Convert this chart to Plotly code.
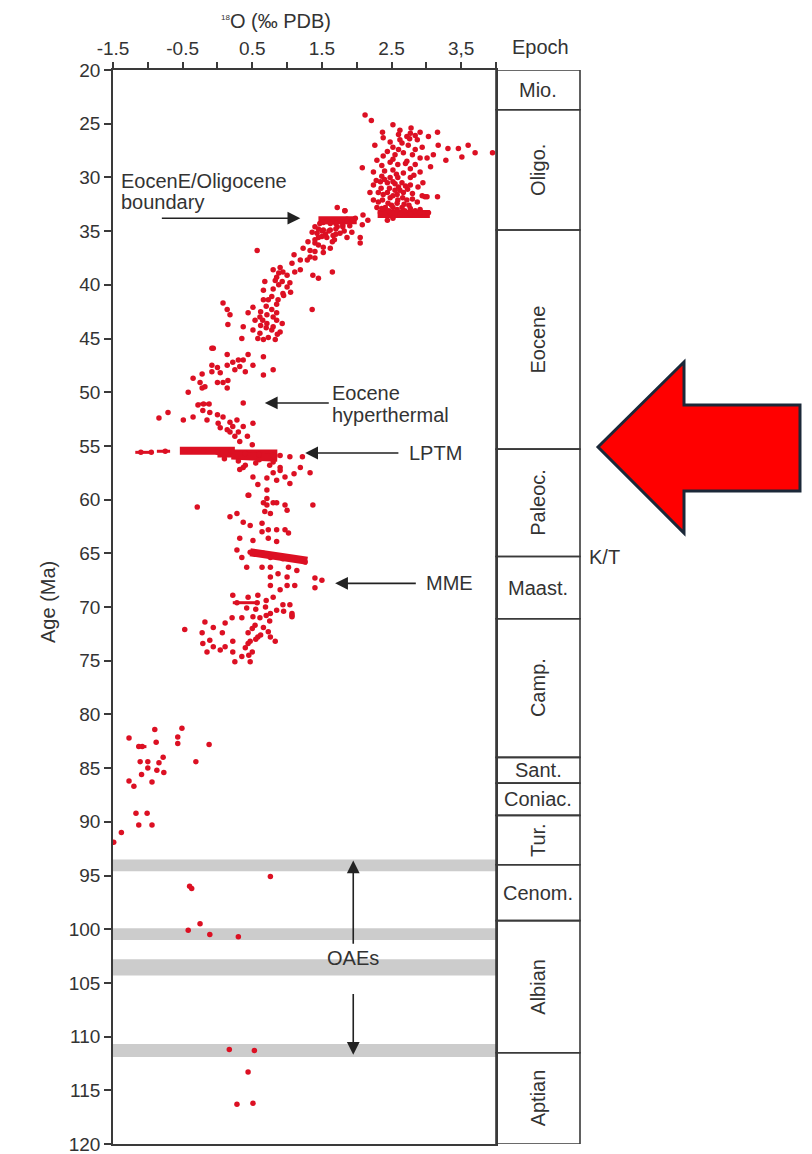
import plotly.graph_objects as go

# ---------------- data ----------------
# delta 18O (per mil PDB) vs age (Ma), grouped by interval
oligo_age = [24.2, 24.7, 25.1, 25.8, 25.6, 26.2, 26.1, 25.8, 26.5, 26.2, 25.8, 27.0, 27.0, 26.3, 26.7, 27.2,
             26.8, 27.0, 27.2, 27.3, 27.3, 27.0, 27.7, 28.1, 27.7, 28.4, 27.6, 27.9, 27.7, 27.9, 28.2, 28.2,
             27.9, 28.4, 28.6, 28.8, 28.7, 28.8, 29.5, 29.0, 29.1, 29.5, 29.3, 29.6, 30.0, 30.0, 30.0, 30.7,
             30.4, 30.5, 30.4, 30.5, 30.7, 30.9, 31.4, 31.4, 31.4, 31.2, 31.4, 31.5, 31.7, 31.8, 32.1, 32.1,
             31.9, 32.1, 32.1, 32.3, 32.8, 32.8, 32.8, 32.8, 32.9, 33.0, 33.3, 33.3, 33.4, 33.4, 33.3, 33.3,
             34.0, 33.8, 33.1, 31.8, 31.8, 33.5, 33.8, 33.9, 34.0, 30.2, 30.9, 31.0, 31.6, 32.4, 32.5, 31.1,
             29.8, 28.5, 29.2, 26.0, 25.4,
             30.3, 30.6, 30.8, 31.0, 31.2, 31.6, 31.7, 31.9, 32.0, 32.3, 32.4, 32.6, 32.6, 32.9, 33.1, 33.0,
             33.1, 33.1, 29.9, 29.7, 29.4, 28.9, 28.3, 28.0, 27.4, 27.4, 26.5, 26.4, 25.9, 30.5]
oligo_d18o = [2.12, 2.21, 2.52, 2.37, 2.62, 2.72, 2.84, 2.91, 2.87, 3.03, 3.16, 3.17, 2.26, 2.38, 2.48, 2.52,
              2.65, 2.74, 2.94, 3.31, 3.46, 3.60, 3.70, 3.51, 3.95, 3.28, 2.44, 2.55, 2.67, 2.80, 2.91, 3.01,
              3.10, 2.29, 2.48, 2.59, 2.70, 2.84, 2.91, 3.06, 2.08, 2.24, 2.52, 2.67, 2.48, 2.59, 2.77, 2.24,
              2.34, 2.44, 2.52, 2.65, 2.77, 2.88, 2.19, 2.31, 2.44, 2.55, 2.67, 2.80, 2.94, 3.01, 2.24, 2.37,
              2.48, 2.59, 2.72, 2.87, 2.29, 2.41, 2.52, 2.65, 2.77, 2.91, 2.34, 2.48, 2.62, 2.77, 2.91, 3.03,
              2.44, 2.52, 1.83, 2.98, 3.16, 2.09, 1.98, 1.86, 2.16, 2.40, 2.60, 2.35, 2.58, 2.45, 2.68, 2.73,
              2.82, 2.72, 2.77, 2.60, 2.78,
              2.28, 2.55, 2.70, 2.47, 2.62, 2.38, 2.52, 2.66, 2.80, 2.31, 2.58, 2.50, 2.75, 2.36, 2.46, 2.58,
              2.69, 2.84, 2.36, 2.57, 2.40, 2.36, 2.52, 2.38, 2.60, 2.84, 2.62, 2.76, 2.77, 2.95]

late_eocene_age = [34.6, 34.3, 34.1, 34.1, 34.1, 34.1, 34.0, 34.9, 34.9, 34.6, 34.6, 35.4, 35.2, 35.6, 35.6,
                   35.1, 35.6, 34.4, 36.1, 32.8, 33.1, 35.1, 35.2, 36.6, 36.8, 36.1, 35.6, 36.0, 36.5, 36.0,
                   36.9, 37.0, 36.8, 37.7, 37.4, 37.7, 38.0, 38.8, 38.6, 39.1, 39.4, 38.8, 38.8, 35.0, 34.8, 35.3,
                   34.3, 34.4, 34.5, 34.8, 35.0, 35.0, 35.3, 35.5, 35.8, 35.8, 34.2, 34.3]
late_eocene_d18o = [1.40, 1.47, 1.57, 1.66, 1.76, 1.86, 1.95, 1.52, 1.62, 1.72, 1.80, 1.66, 1.76, 1.57, 1.86,
                    1.93, 2.05, 2.08, 2.05, 1.72, 1.83, 1.36, 1.43, 1.23, 1.33, 1.40, 1.45, 1.30, 1.52, 1.65,
                    1.40, 1.52, 0.57, 1.19, 1.33, 1.29, 1.07, 1.11, 1.19, 1.37, 1.45, 1.65, 0.94, 1.50, 1.70, 1.55,
                    1.62, 1.80, 1.90, 1.45, 1.60, 1.82, 1.70, 1.50, 1.40, 1.68, 1.52, 1.70]

mid_eocene_age = [38.6, 38.4, 39.6, 39.7, 39.3, 39.7, 40.5, 41.1, 41.4, 41.4, 40.8, 40.2, 39.8, 42.3, 42.6,
                  43.0, 42.8, 43.6, 43.9, 43.6, 44.4, 44.9, 45.1, 44.5, 44.2, 42.3, 41.7, 42.3, 42.8, 43.7,
                  45.0, 45.9, 43.9, 42.6, 42.1, 43.3, 43.0, 41.4, 45.0, 45.1, 44.0, 43.3,
                  38.9, 39.1, 40.0, 40.4, 40.7, 41.0, 41.8, 42.0, 42.5, 43.3, 43.8, 44.2, 44.6, 37.2, 37.5,
                  36.3, 36.6]
mid_eocene_d18o = [0.80, 0.90, 0.83, 0.93, 0.85, 0.68, 0.66, 0.78, 0.73, 0.87, 0.94, 1.00, 1.04, 0.78, 0.85,
                   0.80, 0.71, 0.71, 0.80, 0.93, 0.90, 0.73, 0.83, 0.61, 0.51, 1.36, 0.08, 0.14, 0.18, 0.15,
                   0.35, -0.06, 0.37, 0.44, 0.51, 0.54, 0.61, 0.66, 0.58, 0.66, 0.70, 0.85,
                   0.88, 1.00, 0.88, 0.80, 1.05, 0.95, 0.85, 0.70, 0.62, 0.65, 0.62, 0.78, 0.86, 1.10, 1.40,
                   1.45, 1.62]

early_eocene_age = [50.0, 48.7, 49.1, 48.3, 49.5, 49.6, 45.9, 47.5, 48.1, 47.7, 48.2, 49.1, 49.1, 48.9, 49.6,
                    46.5, 47.5, 47.2, 47.9, 47.6, 47.0, 47.0, 48.1, 46.5, 47.5, 46.7, 48.4, 47.9,
                    52.4, 51.9, 52.6, 51.2, 51.7, 51.9, 52.1, 52.3, 52.3, 52.6, 52.9, 52.8, 52.6, 53.2,
                    53.2, 52.9, 53.5, 53.3, 54.1, 54.1, 54.6, 54.9, 51.0, 53.7, 53.7, 51.1, 51.1]
early_eocene_d18o = [-0.42, -0.35, -0.25, -0.22, -0.18, -0.22, -0.08, -0.08, -0.08, 0.00, 0.04, 0.00, 0.08,
                     0.15, 0.14, 0.14, 0.14, 0.22, 0.25, 0.32, 0.30, 0.37, 0.40, 0.44, 0.51, 0.66, 0.66, 0.80,
                     -0.84, -0.71, -0.49, -0.28, -0.21, -0.11, 0.00, 0.08, -0.35, -0.15, 0.01, 0.18, 0.28,
                     0.22, 0.37, 0.51, 0.14, 0.04, 0.25, 0.43, 0.32, 0.50, 0.37, 0.18, 0.30, -0.20, -0.12]

paleo_age = [56.0, 56.0, 57.0, 57.5, 57.0, 57.5, 57.9, 58.5, 58.0, 58.6, 57.9, 57.0, 57.2, 59.1, 59.6, 60.5,
             60.7, 60.3, 60.3, 60.5, 59.6, 59.9, 60.5, 60.3, 61.1, 61.3, 61.0, 61.6, 61.3, 62.1, 62.4, 62.2,
             63.0, 62.8, 62.8, 62.8, 63.1, 63.6, 63.9, 63.6, 63.8, 64.7, 65.4, 64.9, 65.0, 65.4, 65.5, 65.6,
             65.8, 56.4, 56.6, 56.8, 56.2, 55.9, 55.5, 55.5, 55.6, 55.5, 55.7, 55.8, 55.9, 55.6, 55.6, 55.5,
             56.3, 56.5, 56.8, 57.3, 57.6, 58.2]
paleo_d18o = [1.04, 1.22, 1.19, 1.33, 0.90, 0.80, 0.97, 1.04, 0.71, 0.58, 0.51, 0.37, 0.32, 0.71, 0.44, 1.37,
              -0.29, 0.66, 0.80, 0.97, 0.45, 0.71, 0.71, 0.85, 0.68, 0.76, 1.00, 0.18, 0.28, 0.37, 0.47, 0.64,
              0.64, 0.73, 0.85, 0.97, 1.02, 0.73, 0.85, 0.32, 0.51, 0.28, 0.35, 0.47, 0.66, 0.76, 0.94, 1.14,
              1.26, 0.30, 0.55, 0.75, 0.10, 0.90, -0.40, -0.20, 0.00, 0.20, 0.40, 0.60, 0.80, -1.10, -0.95, -0.75,
              0.60, 0.80, 0.40, 0.90, 1.10, 0.85]

maast_age = [66.3, 66.3, 66.3, 66.3, 66.6, 67.2, 66.9, 67.2, 68.0, 68.0, 68.0, 68.4, 69.1, 67.3, 67.5, 68.2,
             68.9, 69.1, 68.9, 69.6, 70.1, 69.6, 70.0, 70.3, 69.8, 69.8, 70.6, 71.0, 71.0, 70.9, 71.0, 70.6,
             71.7, 71.9, 72.3, 73.2, 72.8, 72.8, 72.4, 73.4, 74.2, 75.1, 71.5, 72.4, 71.4, 71.9, 72.1, 72.4,
             73.1, 73.4, 73.7, 74.2, 74.0, 73.7, 73.2, 74.2, 75.1, 74.6, 73.2, 70.8, 70.9,
             70.2, 70.8, 71.3, 72.0, 72.6, 73.0, 73.8, 74.5, 69.4, 70.4]
maast_d18o = [0.42, 0.64, 0.76, 1.02, 1.14, 0.76, 0.87, 1.00, 1.00, 1.11, 0.76, 0.90, 0.80, 1.40, 1.50, 1.40,
              0.22, 0.44, 0.58, 0.28, 0.42, 0.57, 0.69, 0.85, 0.94, 1.04, 1.07, 0.35, 0.21, 0.51, 0.61, 0.76,
              0.54, 0.66, 0.73, 0.83, 0.76, 0.58, 0.44, 0.44, 0.50, 0.47, 0.11, 0.07, -0.18, -0.06, -0.47, -0.22,
              -0.11, -0.21, -0.06, -0.15, 0.04, 0.11, 0.22, 0.22, 0.25, 0.35, 0.47, 1.07, 1.07,
              0.55, 0.70, 0.75, 0.50, 0.62, 0.55, 0.40, 0.45, 0.70, 0.95]

late_cret_age = [81.4, 82.2, 83.0, 83.0, 82.6, 82.1, 81.3, 82.7, 82.8, 84.0, 84.5, 84.4, 84.4, 85.4, 85.2,
                 85.0, 85.6, 86.3, 84.4, 86.2, 86.7, 89.2, 89.2, 90.3, 90.3, 91.0, 91.9]
late_cret_d18o = [-0.90, -1.27, -1.13, -1.08, -0.88, -0.57, -0.51, -0.57, -0.12, -0.78, -0.84, -1.00, -1.11,
                  -0.77, -0.87, -1.00, -1.09, -0.94, -0.31, -1.27, -1.20, -1.17, -1.01, -1.13, -0.94, -1.38, -1.49]

early_cret_age = [95.1, 96.2, 96.0, 100.1, 99.5, 100.5, 100.7, 111.2, 111.3, 113.3, 116.3, 116.2]
early_cret_d18o = [0.76, -0.37, -0.40, -0.42, -0.25, -0.11, 0.30, 0.17, 0.53, 0.44, 0.28, 0.51]

# dense streaks of overlapping samples: (age start, age end, d18O start, d18O end)
thick_age0 = [55.45, 55.7, 55.9, 33.4, 34.0, 64.9]
thick_age1 = [55.45, 55.7, 56.1, 33.4, 34.0, 65.7]
thick_x0 = [-0.54, 0.00, 0.20, 2.30, 1.45, 0.47]
thick_x1 = [0.25, 0.86, 0.86, 3.05, 2.00, 1.29]
thin_age0 = [55.6, 55.5, 51.1, 83.0, 69.6]
thin_age1 = [55.6, 55.5, 51.1, 83.0, 69.6]
thin_x0 = [-1.18, -0.87, -0.29, -1.15, 0.22]
thin_x1 = [-0.93, -0.68, -0.10, -1.02, 0.60]

# geologic time column
epoch_names = ["Mio.", "Oligo.", "Eocene", "Paleoc.", "Maast.", "Camp.", "Sant.", "Coniac.", "Tur.",
               "Cenom.", "Albian", "Aptian"]
epoch_top = [20.0, 23.7, 34.9, 55.3, 65.3, 71.1, 84.0, 86.4, 89.4, 94.0, 99.2, 111.5]
epoch_bottom = [23.7, 34.9, 55.3, 65.3, 71.1, 84.0, 86.4, 89.4, 94.0, 99.2, 111.5, 120.0]
epoch_vertical = [False, True, True, True, False, True, False, False, True, False, True, True]

# oceanic anoxic events (grey bands)
oae_top = [93.5, 99.9, 102.8, 110.7]
oae_bottom = [94.6, 101.0, 104.3, 111.9]

# axis ticks
x_tickvals = [-1.5, -1.0, -0.5, 0.0, 0.5, 1.0, 1.5, 2.0, 2.5, 3.0, 3.5, 4.0]
x_ticktext = ["-1.5", "", "-0.5", "", "0.5", "", "1.5", "", "2.5", "", "3,5", ""]
y_tickvals = list(range(20, 125, 5))

# ---------------- figure ----------------
OFF = 8                 # default page body margin
W, H = 812 - OFF, 1154 - OFF


def pxx(p):
    return (p - OFF) / W


def pyy(p):
    return 1 - (p - OFF) / H


RED = "#dc1023"
TXT = "#333333"
FONT = "Liberation Sans, Arial, sans-serif"
LINE = "#3a3a3a"

fig = go.Figure()

pts_age = (oligo_age + late_eocene_age + mid_eocene_age + early_eocene_age + paleo_age + maast_age
           + late_cret_age + early_cret_age)
pts_d = (oligo_d18o + late_eocene_d18o + mid_eocene_d18o + early_eocene_d18o + paleo_d18o + maast_d18o
         + late_cret_d18o + early_cret_d18o)


def seg(a0, a1, x0, x1):
    xs, ys = [], []
    for i in range(len(a0)):
        xs += [x0[i], x1[i], None]
        ys += [a0[i], a1[i], None]
    return xs, ys


sx, sy = seg(thick_age0, thick_age1, thick_x0, thick_x1)
fig.add_trace(go.Scatter(x=sx, y=sy, mode="lines", line=dict(color=RED, width=8),
                         hoverinfo="skip", showlegend=False))
sx, sy = seg(thin_age0, thin_age1, thin_x0, thin_x1)
fig.add_trace(go.Scatter(x=sx, y=sy, mode="lines", line=dict(color=RED, width=3),
                         hoverinfo="skip", showlegend=False))
fig.add_trace(go.Scatter(x=pts_d, y=pts_age, mode="markers",
                         marker=dict(color=RED, size=5.5, symbol="circle", line=dict(width=0)),
                         showlegend=False))

shapes = []
for t, b in zip(oae_top, oae_bottom):
    shapes.append(dict(type="rect", xref="x", yref="y", x0=-1.5, x1=4.0, y0=t, y1=b,
                       fillcolor="#cccccc", line=dict(width=0), layer="below"))
for t, b in zip(epoch_top, epoch_bottom):
    shapes.append(dict(type="rect", xref="paper", yref="y", x0=pxx(496), x1=pxx(580), y0=t, y1=b,
                       line=dict(color=LINE, width=1.6), fillcolor="rgba(0,0,0,0)"))

# big red arrow overlay
arrow_pts = [(598, 447), (684, 362), (684, 405), (800, 405), (800, 491), (684, 491), (684, 533)]
path = "M " + " L ".join(f"{pxx(a):.5f},{pyy(b):.5f}" for a, b in arrow_pts) + " Z"
shapes.append(dict(type="path", xref="paper", yref="paper", path=path,
                   fillcolor="#ff0000", line=dict(color="#1b2838", width=3)))


def ptext(x, y, text, size=20, angle=0, xa="center"):
    return dict(x=pxx(x), y=pyy(y), xref="paper", yref="paper", text=text, showarrow=False,
                textangle=angle, xanchor=xa, yanchor="middle",
                font=dict(family=FONT, size=size, color=TXT))


annotations = []
for name, t, b, v in zip(epoch_names, epoch_top, epoch_bottom, epoch_vertical):
    annotations.append(dict(x=pxx(538), y=(t + b) / 2, xref="paper", yref="y", text=name,
                            showarrow=False, textangle=-90 if v else 0, xanchor="center",
                            yanchor="middle", font=dict(family=FONT, size=20, color=TXT)))

annotations += [
    ptext(276, 21, "<sup><span style='font-size:8px'>18</span></sup>O (‰ PDB)"),
    ptext(540, 47, "Epoch"),
    ptext(48, 602, "Age (Ma)", angle=-90),
    ptext(587, 557, "K/T", xa="left"),
    ptext(119, 181, "EocenE/Oligocene", xa="left"),
    ptext(119, 202, "boundary", xa="left"),
    ptext(330, 393, "Eocene", xa="left"),
    ptext(330, 415, "hyperthermal", xa="left"),
    ptext(407, 453, "LPTM", xa="left"),
    ptext(424, 583, "MME", xa="left"),
    ptext(353, 958, "OAEs"),
]
# arrows: tip and tail in data units
arr_tip_x = [1.19, 0.68, 1.26, 1.69, 1.95, 1.95]
arr_tip_y = [33.8, 51.0, 55.66, 67.8, 93.6, 111.7]
arr_tail_x = [-0.82, 1.62, 2.62, 2.87, 1.95, 1.95]
arr_tail_y = [33.8, 51.0, 55.66, 67.8, 101.5, 105.9]
for tx, ty, ax_, ay_ in zip(arr_tip_x, arr_tip_y, arr_tail_x, arr_tail_y):
    annotations.append(dict(x=tx, y=ty, ax=ax_, ay=ay_, xref="x", yref="y", axref="x", ayref="y",
                            text="", showarrow=True, arrowhead=2, arrowsize=1.6, arrowwidth=1.6,
                            arrowcolor="#222222"))

fig.update_layout(
    width=W, height=H, margin=dict(l=0, r=0, t=0, b=0),
    paper_bgcolor="white", plot_bgcolor="white",
    shapes=shapes, annotations=annotations,
    xaxis=dict(domain=[pxx(113), pxx(496)], range=[-1.5, 4.0], side="top",
               tickvals=x_tickvals, ticktext=x_ticktext, ticks="outside", ticklen=6,
               tickwidth=1.5, tickcolor=LINE, showline=True, linecolor=LINE, linewidth=1.6,
               mirror=True, showgrid=False, zeroline=False, automargin=False,
               ticklabeloverflow="allow",
               tickfont=dict(family=FONT, size=19, color=TXT)),
    yaxis=dict(domain=[pyy(1144), pyy(70)], range=[120, 20], tickvals=y_tickvals,
               ticks="outside", ticklen=7, tickwidth=1.5, tickcolor=LINE,
               showline=True, linecolor=LINE, linewidth=1.6, mirror=True,
               showgrid=False, zeroline=False, automargin=False,
               ticklabeloverflow="allow",
               tickfont=dict(family=FONT, size=19, color=TXT)),
)

fig.write_html("out.html")
